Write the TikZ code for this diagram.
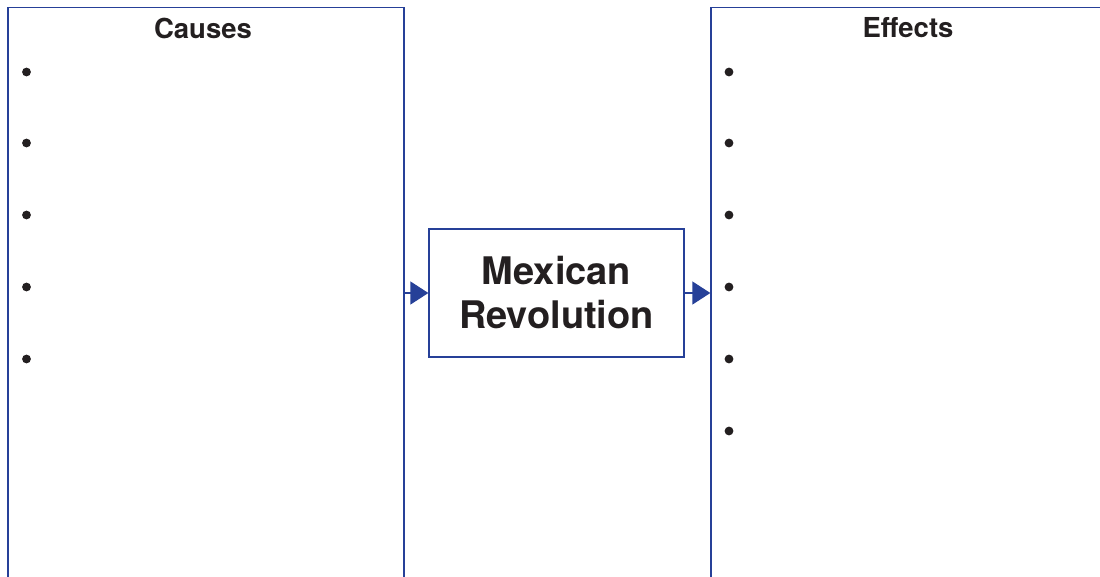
\documentclass[tikz,border=0pt]{standalone}
\usepackage{fontspec}
\setmainfont{TeX Gyre Heros}
\usetikzlibrary{positioning,arrows.meta}
\definecolor{frameblue}{RGB}{38,64,152}
\definecolor{inkblack}{RGB}{35,31,32}
\begin{document}
\begin{tikzpicture}[x=1pt, y=-1pt, line width=1.3pt,
  column/.style={draw=frameblue, minimum width=396pt, minimum height=700pt, anchor=north, inner sep=0pt},
  centre/.style={draw=frameblue, fill=white, minimum width=255pt, minimum height=128pt, align=center, font=\fontsize{38}{44}\selectfont\bfseries, text=inkblack},
  heading/.style={font=\fontsize{27.5}{30}\selectfont\bfseries, text=inkblack},
  link/.style={draw=frameblue, -{Triangle[length=18pt, width=23pt]}}]
     \clip (0,0) rectangle (1100,576);
     \node[column] (causes) at (206,7) {};
     \node[column] (effects) at (909,7) {};
     \node[centre] (rev) at (556.5,293) {Mexican\\Revolution};
     \node[heading] (causetitle) at (203,28) {Causes};
     \node[heading] (effecttitle) at (908,28) {Effects};
     \foreach \y in {72,143,215,287,359}
        \fill[inkblack] (26.5,\y) circle (4.4pt);
     \foreach \y in {72,143,215,287,359,431}
        \fill[inkblack] (729,\y) circle (4.4pt);
     \draw[link] (causes.east |- rev) -- (rev);
     \draw[link] (rev) -- (effects.west |- rev);
   \end{tikzpicture}
\end{document}
